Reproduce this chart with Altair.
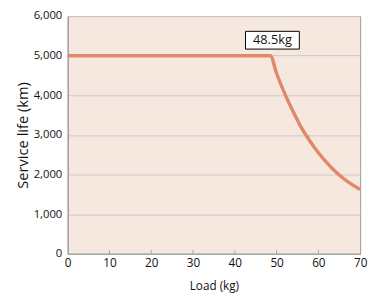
import altair as alt
import pandas as pd

load_kg = [0, 48.5, 50, 52, 54, 56, 58, 60, 62, 64, 66, 68, 70]
life_km = [5000, 5000, 4550, 4030, 3580, 3170, 2840, 2550, 2300, 2080, 1900, 1750, 1620]

x_ticks = [0, 10, 20, 30, 40, 50, 60, 70]
y_ticks = [0, 1000, 2000, 3000, 4000, 5000, 6000]

label_text = ["48.5kg"]
label_x = [49]
label_y = [5390]

df = pd.DataFrame({"load": load_kg, "life": life_km})
lab = pd.DataFrame({"x": label_x, "y": label_y, "t": label_text})
tk = pd.DataFrame({"x": x_ticks[1:-1]})

FONT = "Open Sans"

xs = alt.Scale(domain=[0, 70], nice=False)
ys = alt.Scale(domain=[0, 6000], nice=False)

line = alt.Chart(df).mark_line(color="#e0896a", strokeWidth=3.5, interpolate="monotone").encode(
    x=alt.X("load:Q", scale=xs, title="Load (kg)",
            axis=alt.Axis(values=x_ticks, grid=False, ticks=False,
                          domainColor="#999999", labelFontSize=12,
                          titleFontSize=12, titleFontWeight="normal", labelColor="#111",
                          titleColor="#111", labelFont=FONT, titleFont=FONT, titlePadding=13,
                          labelPadding=4, labelFlush=False)),
    y=alt.Y("life:Q", scale=ys, title="Service life (km)",
            axis=alt.Axis(values=y_ticks, format=",.0f",
                          grid=True, gridColor="#c9c9c9", ticks=False, domainColor="#999999",
                          labelFontSize=11.5, titleFontSize=15, titleFontWeight="normal",
                          labelColor="#111", titleColor="#111", labelFont=FONT, titleFont=FONT,
                          labelPadding=6, titlePadding=3)),
)

ticks = alt.Chart(tk).mark_rule(color="#aaaaaa", strokeWidth=1).encode(
    x=alt.X("x:Q", scale=xs), y=alt.value(239), y2=alt.value(243))

box = alt.Chart(lab).mark_point(
    shape="M-1,-0.33L1,-0.33L1,0.33L-1,0.33Z", filled=True, fill="white",
    stroke="black", strokeWidth=1, opacity=1, size=3025
).encode(x=alt.X("x:Q", scale=xs), y=alt.Y("y:Q", scale=ys))

txt = alt.Chart(lab).mark_text(fontSize=13, font=FONT, color="#111").encode(
    x=alt.X("x:Q", scale=xs), y=alt.Y("y:Q", scale=ys), text="t:N")

chart = (ticks + line + box + txt).properties(
    width=299, height=243,
    autosize=alt.AutoSizeParams(type="none"),
    padding={"left": 61, "top": 5, "right": 8, "bottom": 42},
    background="white",
).configure_view(fill="#f6e8de", stroke="#999999", strokeWidth=1)

chart.save("out.html", embed_options={"renderer": "svg", "actions": False})
